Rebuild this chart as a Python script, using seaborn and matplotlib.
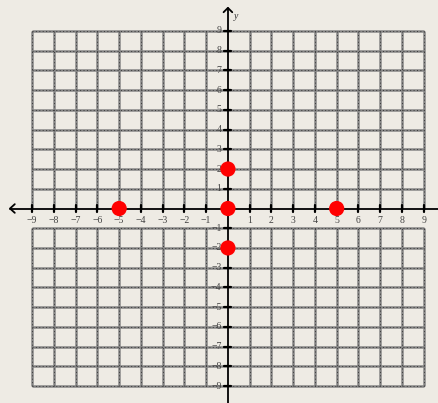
import matplotlib
matplotlib.use("Agg")
import matplotlib.pyplot as plt
import seaborn as sns
import pandas as pd
import numpy as np

# Data
point_x = [-5, 0, 5, 0, 0]
point_y = [0, 0, 0, 2, -2]
tick_values = list(range(-9, 10))
x_tick_labels = [("\u2212%d" % -v) if v < 0 else str(v) for v in tick_values if v != 0]
y_tick_labels = x_tick_labels
axis_label_y = "y"

df = pd.DataFrame({"x": point_x, "y": point_y})

sns.set_theme(style="white")
plt.rcParams['font.family'] = ['Liberation Serif', 'DejaVu Serif']

bg = "#EEEBE4"
fig = plt.figure(figsize=(4.38, 4.03), dpi=100, facecolor=bg)
ax = fig.add_axes([0, 0, 1, 1])
ax.set_facecolor(bg)
ax.set_xlim(-10.48, 9.66)
ax.set_ylim(-9.86, 10.57)
for s in ax.spines.values():
    s.set_visible(False)
ax.set_xticks([])
ax.set_yticks([])

grid_col = "#858585"
dot_col = "#3a3a3a"
nonzero = [v for v in tick_values if v != 0]
upper = [v for v in tick_values if v > 0]
lower = [v for v in tick_values if v < 0]

def gridlines(fn, pos, lo, hi):
    fn(pos, lo, hi, colors=grid_col, linewidth=1.8, zorder=1)
    fn(pos, lo, hi, colors=dot_col, linewidth=0.7, linestyles=(0, (1, 2.5)), zorder=1.1)

# upper half grid
gridlines(ax.vlines, nonzero, 0, 9)
gridlines(ax.hlines, upper, -9, 9)
# lower half grid
gridlines(ax.vlines, nonzero, -9, -1)
gridlines(ax.hlines, lower, -9, 9)

# axes
ax.plot([-10.02, 9.66], [0, 0], color="black", lw=1.3, zorder=3)
ax.plot([0, 0], [-9.86, 10.17], color="black", lw=1.3, zorder=3)
ax.plot([-9.8, -10.02, -9.8], [0.22, 0, -0.22], color="black", lw=1.3, zorder=3)
ax.plot([-0.2, 0, 0.2], [9.95, 10.17, 9.95], color="black", lw=1.3, zorder=3)
ax.text(0.28, 9.75, axis_label_y, fontsize=7, style="italic", color="#333333", ha="left", va="center")

# ticks
for v in nonzero:
    ax.plot([v, v], [-0.17, 0.17], color="black", lw=1.6, zorder=3)
    ax.plot([-0.16, 0.16], [v, v], color="black", lw=1.6, zorder=3)

for v, lab in zip(nonzero, x_tick_labels):
    ax.text(v, -0.62, lab, fontsize=7, color="#444444", ha="center", va="center", zorder=4)
for v, lab in zip(nonzero, y_tick_labels):
    ax.text(-0.3, v, lab, fontsize=7, color="#444444", ha="right", va="center", zorder=4)

sns.scatterplot(data=df, x="x", y="y", color="#FF0000", s=120, edgecolor="none", ax=ax, zorder=5, legend=False)
ax.set_xlabel("")
ax.set_ylabel("")
ax.set_xticks([])
ax.set_yticks([])

fig.savefig("out.png", dpi=100, facecolor=bg)
